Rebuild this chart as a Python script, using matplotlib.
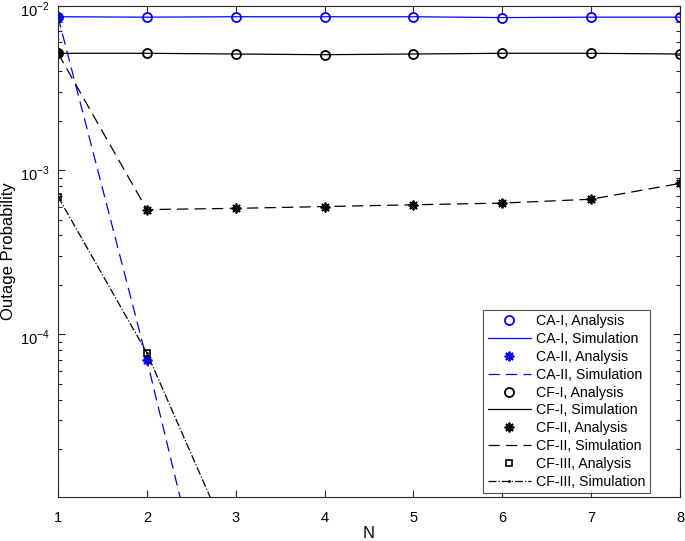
import matplotlib
matplotlib.use("Agg")
import matplotlib.pyplot as plt
import matplotlib.transforms as mtransforms
import numpy as np
from matplotlib.ticker import LogLocator, NullFormatter, FixedLocator

plt.rcParams['font.family'] = ['Liberation Sans', 'DejaVu Sans']
plt.rcParams['mathtext.fontset'] = 'custom'
plt.rcParams['mathtext.rm'] = 'Liberation Sans'

N = [1, 2, 3, 4, 5, 6, 7, 8]
ca1 = [8.6e-3, 8.55e-3, 8.6e-3, 8.6e-3, 8.6e-3, 8.5e-3, 8.55e-3, 8.55e-3]
ca2 = [8.6e-3, 7.0e-5, 4.0e-7, 2.5e-9, 1.5e-11, 1.0e-13, 6.0e-16, 4.0e-18]
cf1 = [5.15e-3, 5.15e-3, 5.1e-3, 5.05e-3, 5.1e-3, 5.15e-3, 5.15e-3, 5.1e-3]
cf2 = [5.15e-3, 5.75e-4, 5.85e-4, 6.0e-4, 6.15e-4, 6.3e-4, 6.65e-4, 8.3e-4]
cf3 = [6.9e-4, 7.7e-5, 4.5e-6, 2.7e-7, 1.6e-8, 1.0e-9, 6.0e-11, 3.6e-12]
ytick_vals = [1e-4, 1e-3, 1e-2]
ytick_labels = [r'$10^{-4}$', r'$10^{-3}$', r'$10^{-2}$']

fig = plt.figure(figsize=(6.85, 5.41), dpi=100)
ax = fig.add_axes([58/685, 1-497/541, (680-58)/685, (497-6)/541])

blue = (0, 0, 1)
k = (0, 0, 0)
ms = 6.5
mew = 1.3
ast = (8, 2, 0)
ax.plot(N, ca1, 'o', color=blue, mfc='none', ms=ms, mew=mew, label='CA-I, Analysis')
ax.plot(N, ca1, '-', color=blue, lw=0.9, label='CA-I, Simulation')
ax.plot(N, ca2, ls='none', marker=ast, color=blue, ms=7, mew=1.3, label='CA-II, Analysis')
ax.plot(N, ca2, '--', color=blue, lw=0.9, dashes=(9, 5), label='CA-II, Simulation')
ax.plot(N, cf1, 'o', color=k, mfc='none', ms=ms, mew=mew, label='CF-I, Analysis')
ax.plot(N, cf1, '-', color=k, lw=0.9, label='CF-I, Simulation')
ax.plot(N, cf2, ls='none', marker=ast, color=k, ms=7, mew=1.3, label='CF-II, Analysis')
ax.plot(N, cf2, '--', color=k, lw=0.9, dashes=(9, 5), label='CF-II, Simulation')
ax.plot(N, cf3, 's', color=k, mfc='none', ms=5, mew=1.2, label='CF-III, Analysis')
ax.plot(N, cf3, '-.', color=k, lw=0.9, marker='.', ms=2, label='CF-III, Simulation')

ax.set_yscale('log')
ax.set_xlim(1, 8)
ax.set_ylim(1.02e-5, 1e-2)
ax.set_xticks(N)
ax.yaxis.set_major_locator(FixedLocator(ytick_vals))
ax.yaxis.set_minor_locator(LogLocator(base=10, subs=np.arange(2, 10)))
ax.yaxis.set_minor_formatter(NullFormatter())
ax.set_yticklabels(ytick_labels)

edge = (0.15, 0.15, 0.15)
for s in ax.spines.values():
    s.set_color(edge)
    s.set_linewidth(0.8)
ax.tick_params(which='both', direction='in', top=True, right=True, colors=edge,
               labelcolor='black', labelsize=10.5, width=0.8)
ax.tick_params(which='major', length=5)
ax.tick_params(which='minor', length=3)
ax.tick_params(axis='x', pad=10)
ax.tick_params(axis='y', pad=6)

off = mtransforms.ScaledTranslation(0, -3/100, fig.dpi_scale_trans)
for lab in ax.get_yticklabels():
    lab.set_transform(lab.get_transform() + off)

ax.set_xlabel('N', fontsize=12, va='center')
ax.xaxis.set_label_coords(0.5, (497-533)/491)
ax.set_ylabel('Outage Probability', fontsize=12, va='center')
ax.yaxis.set_label_coords((9-58)/622, 0.5)

leg = ax.legend(loc='lower right', bbox_to_anchor=((650-58)/622, (497-493)/491),
                fontsize=10.2, handlelength=3.1, frameon=True,
                fancybox=False, edgecolor=edge, borderpad=0.3, labelspacing=0.27,
                handletextpad=0.35, borderaxespad=0.0, numpoints=1)
leg.get_frame().set_linewidth(0.8)

fig.savefig('out.png', dpi=100)
